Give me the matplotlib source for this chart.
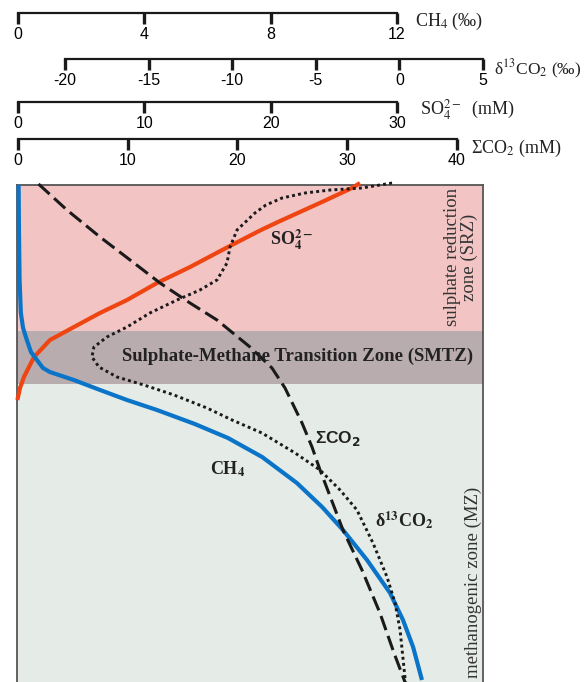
import matplotlib
matplotlib.use('Agg')
import matplotlib.pyplot as plt

# ---------------- data (relative depth 0 = top of section, 100 = bottom) ----------
depth_ch4 = [0, 9.05, 19.11, 25.75, 28.77, 31.19, 33.6, 35.21, 36.82, 37.63, 39.24,
             41.25, 43.26, 45.27, 48.09, 50.91, 54.73, 59.96, 64.79, 69.42, 75.45,
             82.09, 87.53, 92.96, 99.6]
ch4 = [0.02, 0.03, 0.05, 0.09, 0.16, 0.28, 0.41, 0.6, 0.79, 1.01, 1.77,
       2.6, 3.45, 4.4, 5.6, 6.65, 7.73, 8.83, 9.63, 10.29, 11.05,
       11.78, 12.19, 12.51, 12.79]

depth_so4 = [43.26, 40.85, 38.63, 34.61, 31.19, 28.57, 25.75, 23.14, 19.72, 16.5,
             12.47, 9.05, 7.44, 3.42, 0.6, -0.4]
so4 = [-0.05, 0.16, 0.47, 1.27, 2.53, 4.43, 6.49, 8.63, 11.0, 13.62,
       16.62, 19.24, 20.58, 24.06, 26.44, 27.07]

depth_dic = [-0.2, 5.03, 10.46, 15.69, 19.72, 23.74, 27.16, 32.6, 36.82, 40.85,
             47.89, 52.72, 57.34, 69.42, 77.46, 86.12, 94.16, 100]
dic = [1.87, 4.46, 7.47, 10.57, 12.94, 15.67, 18.13, 21.14, 23.14, 24.33,
       25.88, 26.79, 27.52, 29.61, 31.34, 32.98, 34.26, 35.26]

depth_d13 = [-0.4, 0.6, 1.01, 1.61, 2.62, 4.02, 5.63, 9.05, 12.47, 15.69, 19.11,
             21.13, 23.14, 25.75, 28.57, 30.58, 32.6, 34.61, 36.62, 38.63, 40.24,
             42.25, 44.87, 47.28, 49.9, 53.92, 57.34, 61.37, 65.39, 72.03, 78.87,
             84.1, 89.54, 98.99, 100]
d13co2 = [-0.44, -2.24, -4.15, -5.65, -7.02, -7.98, -8.64, -9.71, -10.13, -10.31,
          -10.91, -11.93, -13.3, -14.92, -16.29, -17.49, -18.27, -18.39, -17.97,
          -16.89, -15.28, -13.48, -11.51, -10.01, -8.22, -6.24, -4.75, -3.55,
          -2.54, -1.58, -0.74, -0.26, 0.04, 0.33, 0.36]

ch4_ticks = [0, 4, 8, 12]
d13_ticks = [-20, -15, -10, -5, 0, 5]
so4_ticks = [0, 10, 20, 30]
dic_ticks = [0, 10, 20, 30, 40]

zone_bounds = [0, 29.4, 40.0, 100]
zone_colors = ['#F2C4C4', '#B9ACAF', '#E5EBE6']

# ---------------- layout ----------------
W, H = 586, 682
plt.rcParams['mathtext.fontset'] = 'stix'
plt.rcParams['font.family'] = ['Liberation Serif', 'DejaVu Serif']

fig = plt.figure(figsize=(W / 100, H / 100), dpi=100)
FX0, FY0, FX1, FY1 = 17, 185, 483, 682


def rect(x0, y0, x1, y1):
    return [x0 / W, 1 - y1 / H, (x1 - x0) / W, (y1 - y0) / H]


def xlim_for(v0, p0, v1, p1):
    s = (v1 - v0) / (p1 - p0)
    return (v0 + (FX0 - p0) * s, v0 + (FX1 - p0) * s)


lim_ch4 = xlim_for(0, 18, 12, 397)
lim_d13 = xlim_for(-20, 65, 5, 483)
lim_so4 = xlim_for(0, 18, 30, 397)
lim_dic = xlim_for(0, 18, 40, 457)

# main panel with zones
ax = fig.add_axes(rect(FX0, FY0, FX1, FY1))
ax.set_xlim(0, 1)
ax.set_ylim(100, 0)
for a, b, c in zip(zone_bounds[:-1], zone_bounds[1:], zone_colors):
    ax.axhspan(a, b, color=c, lw=0, zorder=0)
ax.set_xticks([])
ax.set_yticks([])
for s in ['left', 'right', 'top']:
    ax.spines[s].set_color('#555555')
    ax.spines[s].set_linewidth(1.3)
ax.spines['bottom'].set_visible(False)


def ftxt(x, y, s, **kw):
    fig.text(x / W, 1 - y / H, s, **kw)


ftxt(298, 356, 'Sulphate-Methane Transition Zone (SMTZ)', ha='center', va='center',
     fontsize=13.5, fontweight='bold', color='#222222', zorder=2)
ftxt(461, 257, 'sulphate reduction\nzone (SRZ)', rotation=90, ha='center', va='center',
     multialignment='center', fontsize=13.5, color='#333333', linespacing=1.0)
ftxt(473, 582, 'methanogenic zone (MZ)', rotation=90, ha='center', va='center',
     fontsize=13.5, color='#333333')


# curves
def curve_ax(lim):
    c = fig.add_axes(rect(FX0, FY0, FX1, FY1), frameon=False)
    c.set_xlim(*lim)
    c.set_ylim(100, 0)
    c.axis('off')
    return c


c_so4 = curve_ax(lim_so4)
c_so4.plot(so4, depth_so4, color='#EE4512', lw=3.0, clip_on=False,
           solid_capstyle='butt', solid_joinstyle='round')
c_ch4 = curve_ax(lim_ch4)
c_ch4.plot(ch4, depth_ch4, color='#0A74C8', lw=3.0, clip_on=False,
           solid_capstyle='butt', solid_joinstyle='round')
c_d13 = curve_ax(lim_d13)
c_d13.plot(d13co2, depth_d13, color='#1a1a1a', lw=2.1, ls=(0, (1, 1.1)), clip_on=False)
c_dic = curve_ax(lim_dic)
c_dic.plot(dic, depth_dic, color='#1a1a1a', lw=2.2, ls=(0, (4.9, 2.0)), clip_on=False)

# curve labels
ftxt(270, 240, r'SO$_\mathbf{4}^\mathbf{2-}$', ha='left', va='center', fontsize=13,
     fontweight='bold', color='#222222')
ftxt(315, 439, r'ΣCO$_\mathbf{2}$', ha='left', va='center', fontsize=12.5,
     fontweight='bold', color='#222222', family='Liberation Sans',
     math_fontfamily='dejavusans')
ftxt(210, 469, r'CH$_\mathbf{4}$', ha='left', va='center', fontsize=13,
     fontweight='bold', color='#222222')
ftxt(375, 520, r'δ$^\mathbf{13}$CO$_\mathbf{2}$', ha='left', va='center', fontsize=13,
     fontweight='bold', color='#222222')


# top scale bars
def scale_bar(yline, lim, ticks, vmin, vmax):
    s = fig.add_axes(rect(FX0, yline - 1, FX1, yline), frameon=True)
    s.patch.set_visible(False)
    s.set_xlim(*lim)
    s.set_yticks([])
    for k in ['top', 'left', 'right']:
        s.spines[k].set_visible(False)
    s.spines['bottom'].set_bounds(vmin, vmax)
    s.spines['bottom'].set_linewidth(1.6)
    s.spines['bottom'].set_color('#1a1a1a')
    s.set_xticks(ticks)
    s.set_xticklabels([str(t) for t in ticks], family='Liberation Sans', fontsize=11.5)
    s.tick_params(axis='x', direction='out', length=8, width=2.4, pad=2,
                  color='#1a1a1a')
    return s


scale_bar(13, lim_ch4, ch4_ticks, 0, 12)
scale_bar(59, lim_d13, d13_ticks, -20, 5)
scale_bar(102, lim_so4, so4_ticks, 0, 30)
scale_bar(139, lim_dic, dic_ticks, 0, 40)

ftxt(415, 21, r'CH$_4$ (‰)', ha='left', va='center', fontsize=13, color='#222222')
ftxt(494, 69, r'δ$^{13}$CO$_2$ (‰)', ha='left', va='center', fontsize=12.5, color='#222222')
ftxt(420, 110, r'SO$_4^{2-}$  (mM)', ha='left', va='center', fontsize=13, color='#222222')
ftxt(471, 148, r'ΣCO$_2$ (mM)', ha='left', va='center', fontsize=13, color='#222222')

fig.savefig('out.png', dpi=100)
